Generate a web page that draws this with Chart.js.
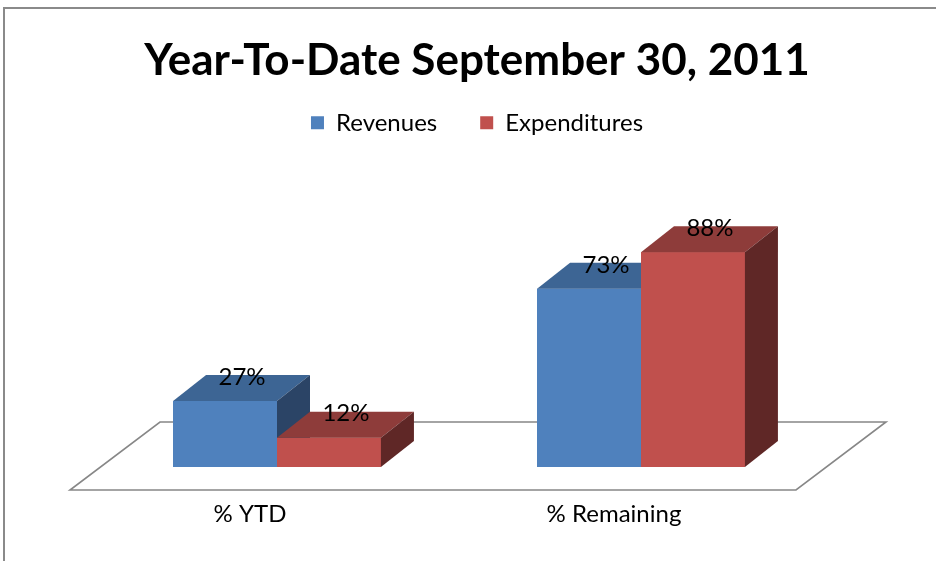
<!DOCTYPE html>
<html>
<head>
<meta charset="utf-8">
<script src="https://cdn.jsdelivr.net/npm/chart.js@4.4.1/dist/chart.umd.min.js"></script>
<style>
  body { margin: 0; background: #fff; }
  #wrap { position: relative; width: 936px; height: 561px; }
  #frame { position: absolute; left: 3px; top: 7px; right: 0; bottom: 0;
           border-top: 2px solid #8a8a8a; border-left: 2px solid #8a8a8a; pointer-events: none; }
</style>
</head>
<body>
<div id="wrap">
  <canvas id="myChart" width="936" height="561"></canvas>
  <div id="frame"></div>
</div>
<script>
// data
const categories = ['% YTD', '% Remaining'];
const seriesNames = ['Revenues', 'Expenditures'];
const revenues = [27, 73];
const expenditures = [12, 88];

// colours: front, top, side
const fronts = ['#4f81bd', '#c0504d'];
const tops = ['#3d6594', '#8e3c3a'];
const sides = ['#2b4466', '#5f2726'];

const DX = 33, DY = -26;   // bar depth
const FONT = 'Lato, "Open Sans", sans-serif';

const floorPlugin = {
  id: 'floor',
  beforeDatasetsDraw(chart) {
    const {ctx, chartArea} = chart;
    const y0 = chart.scales.y.getPixelForValue(0);
    const l = chartArea.left, r = chartArea.right;
    ctx.save();
    ctx.strokeStyle = '#878787';
    ctx.lineWidth = 1.6;
    ctx.beginPath();
    ctx.moveTo(l - 25, y0 + 23);
    ctx.lineTo(r - 27, y0 + 23);
    ctx.lineTo(r + 63, y0 - 45);
    ctx.lineTo(l + 65, y0 - 45);
    ctx.closePath();
    ctx.stroke();
    ctx.restore();
  }
};

function poly(ctx, pts, color) {
  ctx.beginPath();
  ctx.moveTo(pts[0][0], pts[0][1]);
  for (let k = 1; k < pts.length; k++) ctx.lineTo(pts[k][0], pts[k][1]);
  ctx.closePath();
  ctx.fillStyle = color;
  ctx.fill();
}

const boxPlugin = {
  id: 'box3d',
  afterDatasetsDraw(chart) {
    const ctx = chart.ctx;
    const metas = chart.data.datasets.map((d, i) => chart.getDatasetMeta(i));
    ctx.save();
    for (let j = 0; j < categories.length; j++) {
      metas.forEach((meta, i) => {
        const b = meta.data[j].getProps(['x', 'y', 'base', 'width'], true);
        const l = b.x - b.width / 2, r = b.x + b.width / 2;
        ctx.fillStyle = fronts[i];
        ctx.fillRect(l, b.y, b.width, b.base - b.y);
        poly(ctx, [[l, b.y], [r, b.y], [r + DX, b.y + DY], [l + DX, b.y + DY]], tops[i]);
        poly(ctx, [[r, b.y], [r + DX, b.y + DY], [r + DX, b.base + DY], [r, b.base]], sides[i]);
      });
    }
    // value labels
    ctx.fillStyle = '#000';
    ctx.font = '24px ' + FONT;
    ctx.textAlign = 'center';
    ctx.textBaseline = 'middle';
    metas.forEach((meta, i) => {
      meta.data.forEach((bar, j) => {
        const v = chart.data.datasets[i].data[j];
        ctx.fillText(v + '%', bar.x + 17, bar.y - 24);
      });
    });
    ctx.restore();
  }
};

const ctx = document.getElementById('myChart');
new Chart(ctx, {
  type: 'bar',
  data: {
    labels: categories,
    datasets: [
      { label: seriesNames[0], data: revenues, backgroundColor: fronts[0], borderWidth: 0 },
      { label: seriesNames[1], data: expenditures, backgroundColor: fronts[1], borderWidth: 0 }
    ]
  },
  options: {
    responsive: false,
    animation: false,
    layout: { padding: { left: 95, right: 77, top: 34, bottom: 0 } },
    categoryPercentage: 0.571,
    barPercentage: 1,
    plugins: {
      tooltip: { enabled: false },
      title: {
        display: true,
        text: 'Year-To-Date September 30, 2011',
        color: '#000',
        font: { family: FONT, size: 44, weight: 'bold', lineHeight: 1.2 },
        padding: { top: 0, bottom: -19 }
      },
      legend: {
        display: true,
        labels: {
          color: '#000',
          font: { family: FONT, size: 24 },
          boxWidth: 13,
          boxHeight: 13,
          padding: 43
        }
      }
    },
    scales: {
      x: {
        grid: { display: false, drawTicks: false },
        border: { display: false },
        ticks: { color: '#000', font: { family: FONT, size: 24, lineHeight: 1 }, padding: 35, labelOffset: -27 }
      },
      y: {
        position: 'right',
        min: 0, max: 132,
        grid: { display: false, drawTicks: false },
        border: { display: false },
        ticks: { display: false },
        afterFit(scale) { scale.width = 36; }
      }
    }
  },
  plugins: [floorPlugin, boxPlugin]
});
</script>
</body>
</html>
